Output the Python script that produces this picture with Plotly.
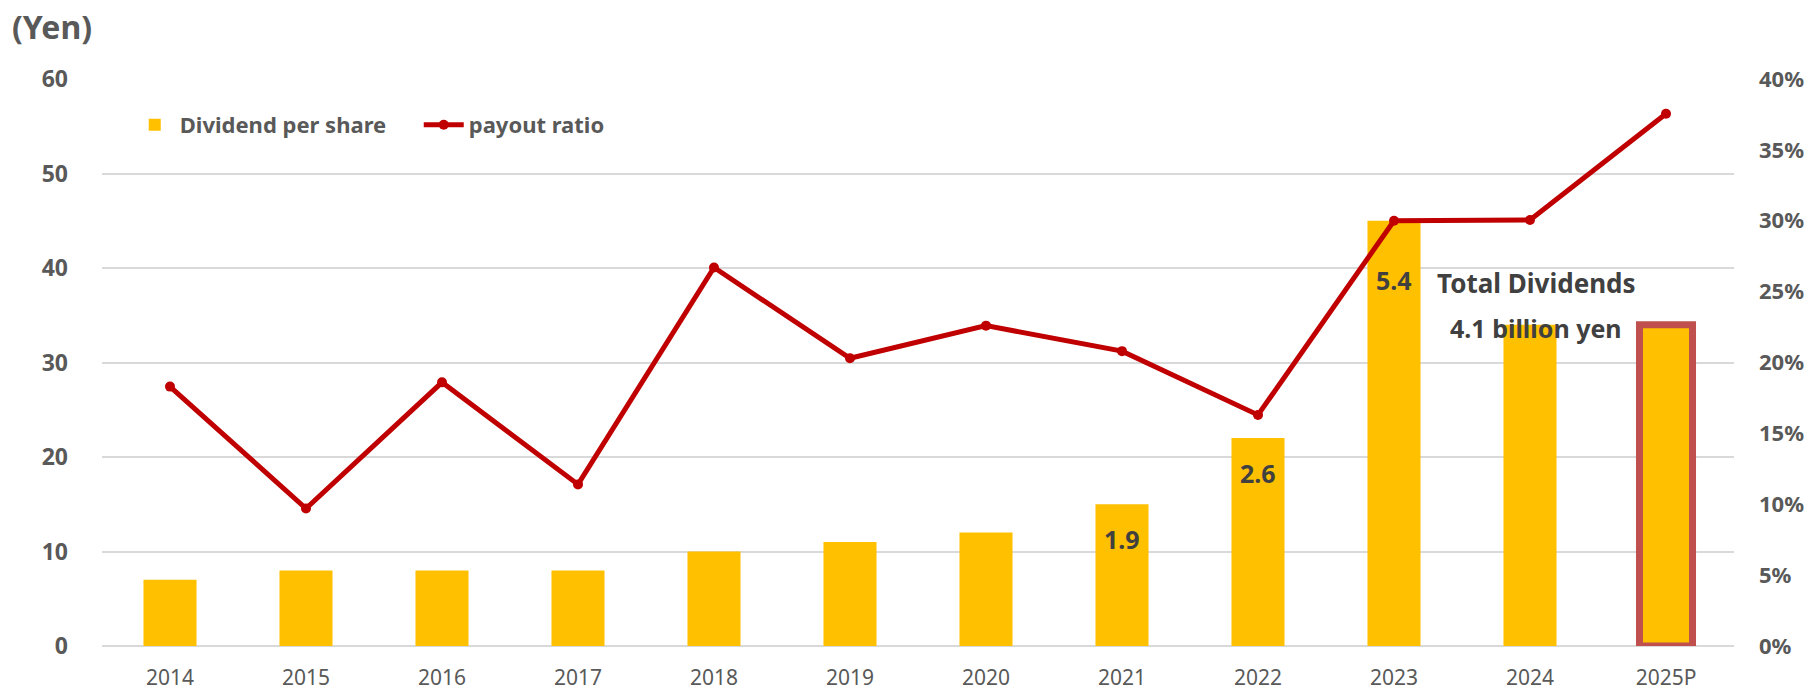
import plotly.graph_objects as go

# Fiscal years and series values
years = ["2014", "2015", "2016", "2017", "2018", "2019", "2020",
         "2021", "2022", "2023", "2024", "2025P"]
dividend_per_share = [7, 8, 8, 8, 10, 11, 12, 15, 22, 45, 34, 34]
payout_ratio = [0.183, 0.097, 0.186, 0.114, 0.267, 0.203, 0.226,
                0.208, 0.163, 0.300, 0.3005, 0.3755]

# Total dividend labels (billion yen) placed inside selected bars
total_div_years = ["2021", "2022", "2023"]
total_div_labels = ["1.9", "2.6", "5.4"]
total_div_label_y = [11.3, 18.3, 38.7]

forecast_year = "2025P"

BAR_COLOR = "#FFC000"
LINE_COLOR = "#C00000"
OUTLINE_COLOR = "#C0504D"
AXIS_TEXT = "#595959"
ANNO_TEXT = "#404040"
GRID = "#D9D9D9"
FONT = "Noto Sans"

outline_w = [7 if y == forecast_year else 0 for y in years]

fig = go.Figure()
fig.add_trace(go.Bar(
    x=years, y=dividend_per_share, name="Dividend per share",
    marker=dict(color=BAR_COLOR,
                line=dict(color=OUTLINE_COLOR, width=outline_w)),
    yaxis="y",
))
fig.add_trace(go.Scatter(
    x=years, y=payout_ratio, name="payout ratio", mode="lines+markers",
    line=dict(color=LINE_COLOR, width=5),
    marker=dict(color=LINE_COLOR, size=10),
    yaxis="y2",
))

# category positions (index on the category axis) for annotations
def cat_pos(label):
    return years.index(label)

annotations = []
for yr, txt, yv in zip(total_div_years, total_div_labels, total_div_label_y):
    annotations.append(dict(
        x=cat_pos(yr), y=yv, xref="x", yref="y", text=f"<b>{txt}</b>",
        showarrow=False, font=dict(family=FONT, size=25, color=ANNO_TEXT)))

annotations += [
    dict(x=cat_pos("2024"), y=38.4, xref="x", yref="y", xshift=6,
         text="<b>Total Dividends</b>", showarrow=False,
         font=dict(family=FONT, size=26, color=ANNO_TEXT)),
    dict(x=cat_pos("2024"), y=33.65, xref="x", yref="y", xshift=6,
         text="<b>4.1 billion yen</b>", showarrow=False,
         font=dict(family=FONT, size=25, color=ANNO_TEXT)),
    # axis unit label at top-left
    dict(x=-102 / 1632, y=1 + 53 / 567, xref="paper", yref="paper",
         xanchor="left", yanchor="middle", xshift=10,
         text="<b>(Yen)</b>", showarrow=False,
         font=dict(family=FONT, size=32, color=AXIS_TEXT)),
]

fig.update_layout(
    width=1814, height=690,
    margin=dict(l=102, r=80, t=79, b=44, autoexpand=False),
    paper_bgcolor="white", plot_bgcolor="white",
    bargap=0.61,
    showlegend=True,
    legend=dict(orientation="h", x=0.017, y=0.919, xanchor="left", yanchor="middle",
                bgcolor="rgba(0,0,0,0)",
                font=dict(family=FONT, size=22, color=AXIS_TEXT, weight="bold"),
                itemwidth=40, entrywidth=234, entrywidthmode="pixels"),
    xaxis=dict(
        type="category", range=[-0.5, len(years) - 0.5], automargin=False,
        showgrid=False, showline=False, zeroline=False,
        tickfont=dict(family=FONT, size=21, color=AXIS_TEXT),
        ticks="", ticklabelstandoff=17,
    ),
    yaxis=dict(
        range=[0, 60], dtick=10, showgrid=True, gridcolor=GRID, gridwidth=2,
        zeroline=True, zerolinecolor=GRID, zerolinewidth=2, showline=False,
        automargin=False,
        tickfont=dict(family=FONT, size=23, color=AXIS_TEXT, weight="bold"),
        ticks="", ticklabelstandoff=33,
    ),
    yaxis2=dict(
        range=[0, 0.4], dtick=0.05, tickformat=".0%", overlaying="y", side="right",
        showgrid=False, zeroline=False, showline=False, automargin=False,
        tickfont=dict(family=FONT, size=22, color=AXIS_TEXT, weight="bold"),
        ticks="", ticklabelstandoff=24,
    ),
    annotations=annotations,
)

fig.write_html("out.html")
